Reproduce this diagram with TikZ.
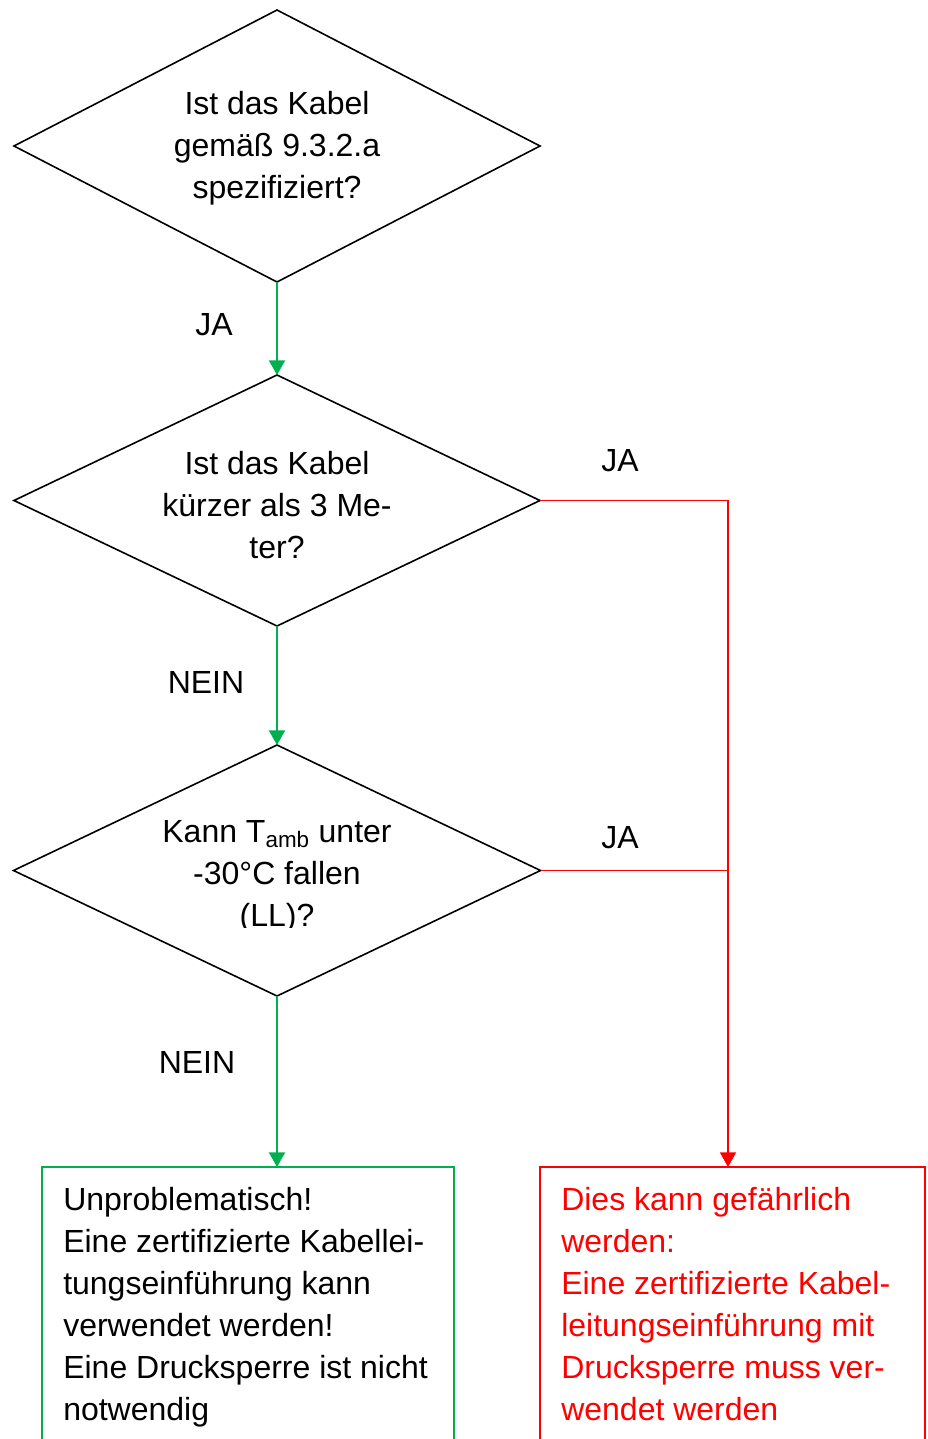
\documentclass[tikz,border=0pt]{standalone}
\usepackage{fontspec}
\setmainfont{Liberation Sans}
\usetikzlibrary{shapes.geometric,arrows.meta}
\definecolor{okgreen}{HTML}{00B050}
\definecolor{warnred}{HTML}{FF0000}
\begin{document}
\begin{tikzpicture}[x=0.75pt,y=-0.75pt,
  font=\fontsize{24pt}{31.5pt}\selectfont,
  dia/.style={diamond,draw=black,line width=1.2pt,outer sep=0pt,inner sep=0pt},
  diatext/.style={align=center,inner sep=0pt},
  lbl/.style={inner sep=0pt},
  greenarrow/.style={draw=okgreen,line width=1.5pt,-{Triangle[width=12pt,length=11pt]}},
  redline/.style={draw=warnred,line width=1.3pt},
  redarrow/.style={draw=warnred,line width=1.3pt,-{Triangle[width=12pt,length=11pt]}},
  resultbox/.style={draw,line width=1.3pt,outer sep=0pt,inner sep=0pt,minimum height=210pt,anchor=north west},
  boxtext/.style={align=left,inner sep=0pt,anchor=north west}]
\clip (0,0) rectangle (928,1439);
\fill[white] (0,0) rectangle (928,1439);

% decisions
\node[dia,minimum width=394.5pt,minimum height=204pt] (d1) at (277,146) {};
\node[dia,minimum width=394.5pt,minimum height=188.25pt] (d2) at (277,500.5) {};
\node[dia,minimum width=395.25pt,minimum height=188.25pt] (d3) at (277,870.5) {};

\node[diatext] (t1) at (277,148.5) {Ist das Kabel\\gemäß 9.3.2.a\\spezifiziert?};
\node[diatext] (t2) at (277,505) {Ist das Kabel\\kürzer als 3 Me-\\ter?};
\begin{scope}
\clip (0,700) rectangle (928,927);
\node[diatext] (t3) at (277,877) {Kann T\textsubscript{amb} unter\\-30°C fallen\\(LL)?};
\end{scope}

% result boxes
\node[resultbox,draw=okgreen,minimum width=309pt] (gb) at (42,1167) {};
\node[resultbox,draw=warnred,minimum width=288.75pt] (rb) at (540,1167) {};

\node[boxtext] (gt) at (63,1180.5) {\strut Unproblematisch!\\Eine zertifizierte Kabellei-\\tungseinführung kann\\verwendet werden!\\Eine Drucksperre ist nicht\\notwendig};
\node[boxtext,text=warnred] (rt) at (561,1180.5) {\strut Dies kann gefährlich\\werden:\\Eine zertifizierte Kabel-\\leitungseinführung mit\\Drucksperre muss ver-\\wendet werden};

% connectors
\draw[greenarrow] (d1.south) -- (d2.north);
\draw[greenarrow] (d2.south) -- (d3.north);
\draw[greenarrow] (d3.south) -- (d3.south |- gb.north);

\coordinate (j) at (728,500.5);
\draw[redarrow] (d2.east) -- (j) -- (j |- rb.north);
\draw[redline] (d3.east) -- (d3.east -| j);

% labels
\node[lbl] (l1) at (214,325) {JA};
\node[lbl] (l2) at (620,461) {JA};
\node[lbl] (l3) at (206,682) {NEIN};
\node[lbl] (l4) at (620,838) {JA};
\node[lbl] (l5) at (197,1062) {NEIN};
\end{tikzpicture}
\end{document}
